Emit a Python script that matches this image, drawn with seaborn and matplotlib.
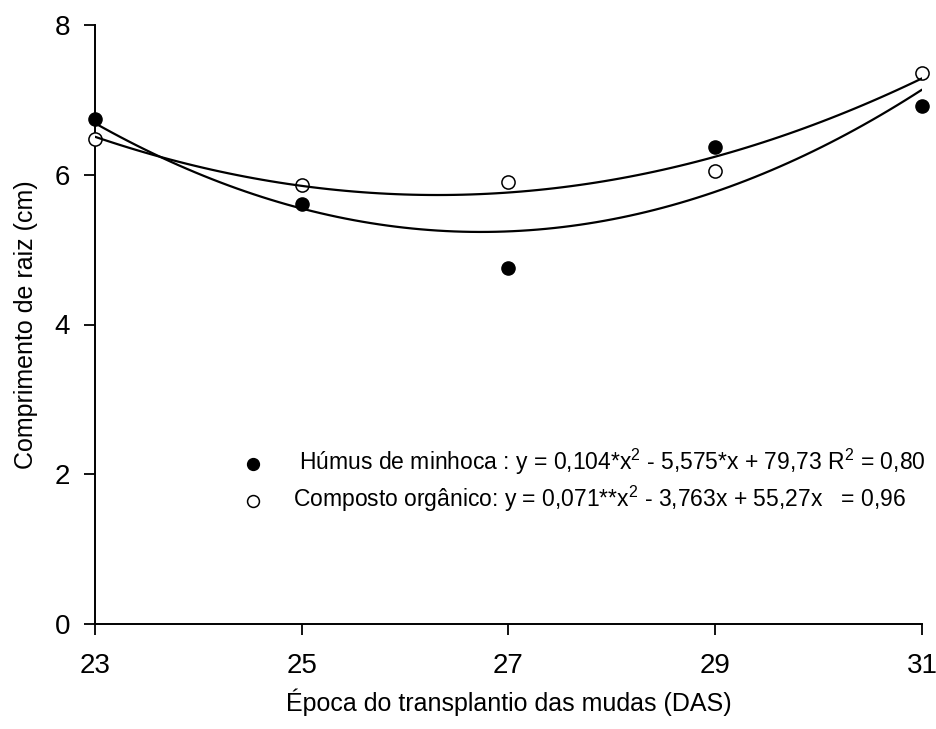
import pandas as pd
import seaborn as sns
import matplotlib.pyplot as plt

DAS = [23, 25, 27, 29, 31]
HUMUS = [6.74, 5.61, 4.75, 6.37, 6.92]
COMPOSTO = [6.48, 5.86, 5.90, 6.05, 7.36]

LABEL_HUMUS = " Húmus de minhoca : y = 0,104*x$^2$ - 5,575*x + 79,73 R$^2$ = 0,80"
LABEL_COMPOSTO = "Composto orgânico: y = 0,071**x$^2$ - 3,763x + 55,27x   = 0,96"

X_TICKS = [23, 25, 27, 29, 31]
Y_TICKS = [0, 2, 4, 6, 8]


def main():
    sns.set_style("ticks")
    plt.rcParams['font.family'] = ['Liberation Sans', 'DejaVu Sans']
    plt.rcParams['mathtext.fontset'] = 'custom'
    plt.rcParams['mathtext.rm'] = 'Liberation Sans'
    plt.rcParams['mathtext.default'] = 'regular'
    plt.rcParams['text.color'] = 'black'
    plt.rcParams['axes.labelcolor'] = 'black'

    df = pd.DataFrame({'das': DAS, 'humus': HUMUS, 'composto': COMPOSTO})

    fig = plt.figure(figsize=(9.37, 7.29), dpi=100)
    # axes box: x 95..922 px, y 25..624 px
    ax = fig.add_axes([95 / 937, 1 - 624 / 729, 827 / 937, 599 / 729])

    sns.regplot(x='das', y='humus', data=df, order=2, ci=None, ax=ax,
                scatter_kws=dict(s=90, color='black', edgecolor='black', alpha=1,
                                 linewidths=1, clip_on=False, zorder=3),
                line_kws=dict(color='black', lw=1.6, zorder=4))
    sns.regplot(x='das', y='composto', data=df, order=2, ci=None, ax=ax,
                scatter_kws=dict(s=90, facecolor='white', edgecolor='black', alpha=1,
                                 linewidths=1.1, clip_on=False, zorder=3),
                line_kws=dict(color='black', lw=1.6, zorder=4))

    h_humus = ax.collections[0]
    h_comp = ax.collections[1]

    ax.set_xlim(23, 31)
    ax.set_ylim(0, 8)
    ax.set_xticks(X_TICKS)
    ax.set_yticks(Y_TICKS)
    ax.tick_params(labelsize=20, length=8, width=1.3, direction='out',
                   colors='black', labelcolor='black')
    ax.tick_params(axis='x', pad=13)
    ax.tick_params(axis='y', pad=10)
    for s in ['left', 'bottom']:
        ax.spines[s].set_linewidth(1.4)
        ax.spines[s].set_color('black')
    sns.despine(ax=ax)

    ax.set_xlabel("Época do transplantio das mudas (DAS)", fontsize=18, labelpad=7, color='black')
    ax.set_ylabel("Comprimento de raiz (cm)", fontsize=18, labelpad=12, color='black')

    leg = ax.legend([h_humus, h_comp], [LABEL_HUMUS, LABEL_COMPOSTO],
                    loc='center left', bbox_to_anchor=(0.163, 0.2396), frameon=False,
                    fontsize=16.5, handlelength=2.0, handletextpad=0.74,
                    labelspacing=0.3, borderpad=0, borderaxespad=0, markerscale=0.9)
    for t in leg.get_texts():
        t.set_color('black')

    fig.savefig('out.png', dpi=100)


if (__name__ == '__main__'):
    main()
